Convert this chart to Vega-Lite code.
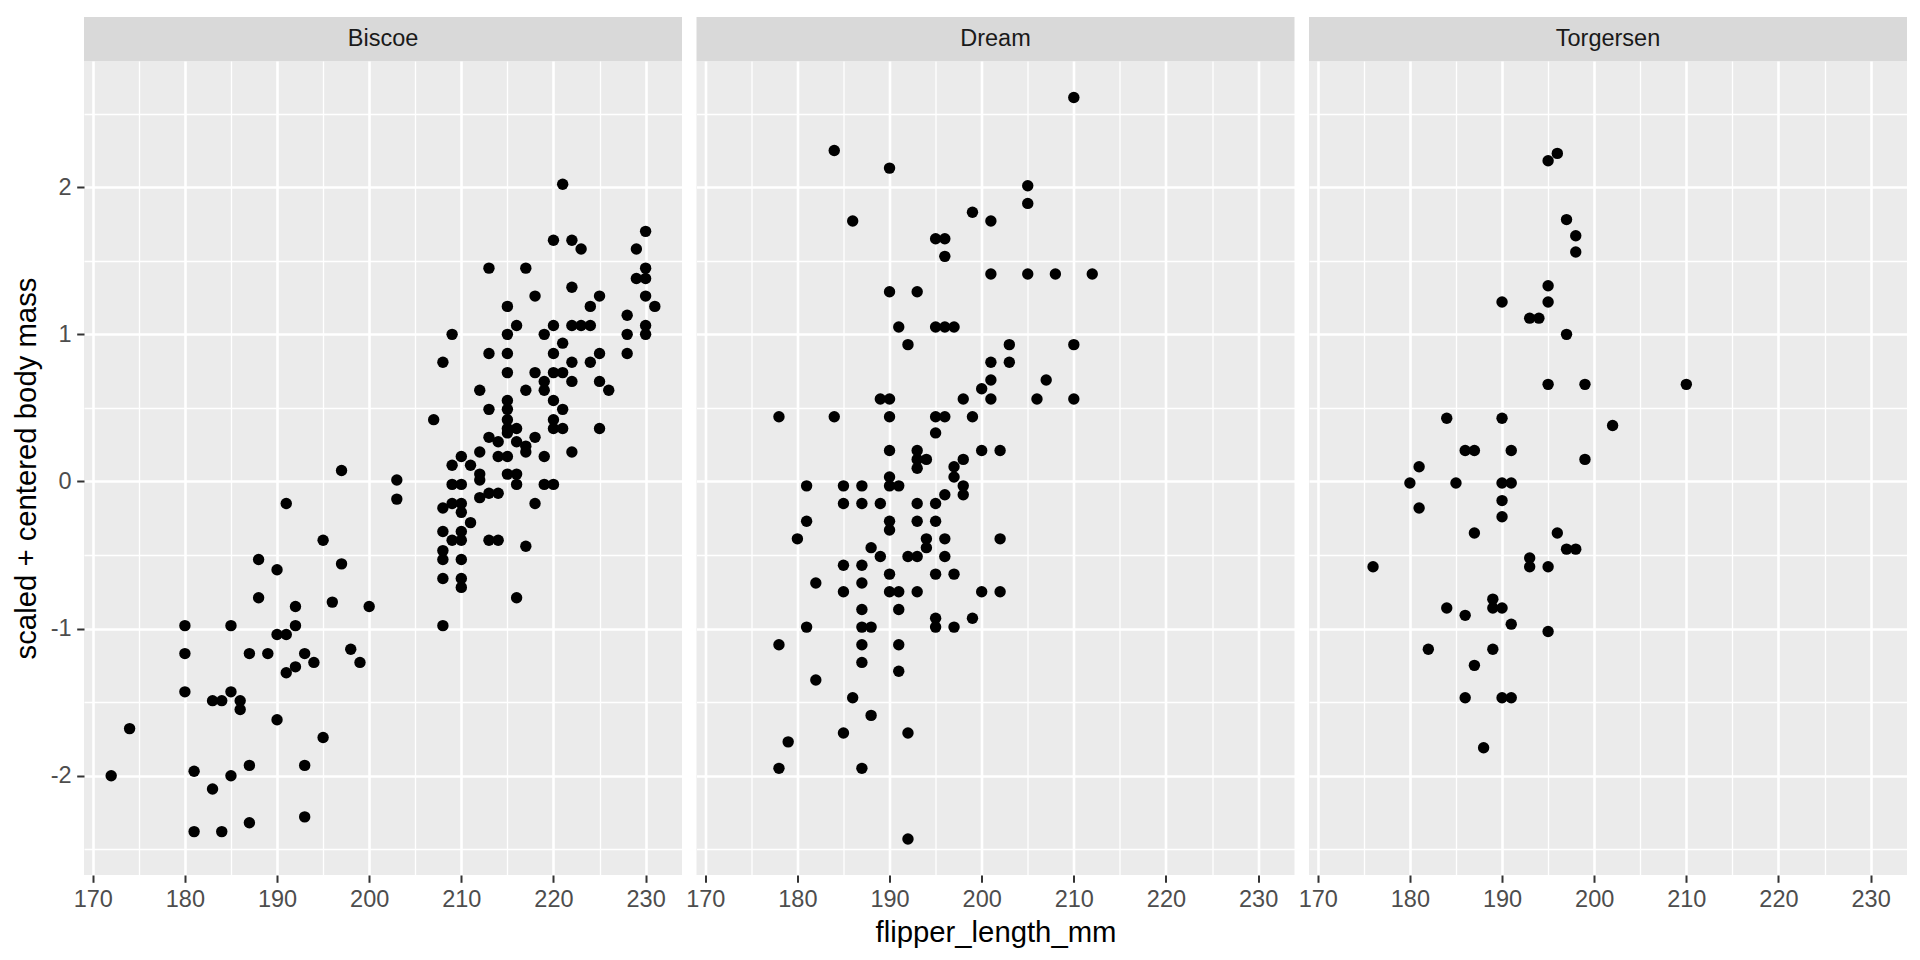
{
  "$schema": "https://vega.github.io/schema/vega-lite/v6.json",
  "background": "white",
  "autosize": {"type": "pad"},
  "padding": {"left": 12, "top": 17, "right": 14, "bottom": 10},
  "spacing": 0,
  "config": {
    "view": {"stroke": null},
    "font": "Liberation Sans"
  },
  "datasets": {
    "penguins": [
      {"island":"Biscoe","flipper_length_mm":221,"body_mass":2.02},{"island":"Biscoe","flipper_length_mm":230,"body_mass":1.70},{"island":"Biscoe","flipper_length_mm":220,"body_mass":1.64},{"island":"Biscoe","flipper_length_mm":222,"body_mass":1.64},{"island":"Biscoe","flipper_length_mm":223,"body_mass":1.58},{"island":"Biscoe","flipper_length_mm":229,"body_mass":1.58},{"island":"Biscoe","flipper_length_mm":213,"body_mass":1.45},{"island":"Biscoe","flipper_length_mm":217,"body_mass":1.45},{"island":"Biscoe","flipper_length_mm":230,"body_mass":1.45},{"island":"Biscoe","flipper_length_mm":229,"body_mass":1.38},{"island":"Biscoe","flipper_length_mm":230,"body_mass":1.38},{"island":"Biscoe","flipper_length_mm":222,"body_mass":1.32},{"island":"Biscoe","flipper_length_mm":218,"body_mass":1.26},{"island":"Biscoe","flipper_length_mm":225,"body_mass":1.26},{"island":"Biscoe","flipper_length_mm":230,"body_mass":1.26},{"island":"Biscoe","flipper_length_mm":215,"body_mass":1.19},{"island":"Biscoe","flipper_length_mm":224,"body_mass":1.19},{"island":"Biscoe","flipper_length_mm":231,"body_mass":1.19},{"island":"Biscoe","flipper_length_mm":228,"body_mass":1.13},{"island":"Biscoe","flipper_length_mm":216,"body_mass":1.06},{"island":"Biscoe","flipper_length_mm":220,"body_mass":1.06},{"island":"Biscoe","flipper_length_mm":222,"body_mass":1.06},{"island":"Biscoe","flipper_length_mm":223,"body_mass":1.06},{"island":"Biscoe","flipper_length_mm":224,"body_mass":1.06},{"island":"Biscoe","flipper_length_mm":230,"body_mass":1.06},{"island":"Biscoe","flipper_length_mm":209,"body_mass":1.00},{"island":"Biscoe","flipper_length_mm":215,"body_mass":1.00},{"island":"Biscoe","flipper_length_mm":219,"body_mass":1.00},{"island":"Biscoe","flipper_length_mm":228,"body_mass":1.00},{"island":"Biscoe","flipper_length_mm":230,"body_mass":1.00},{"island":"Biscoe","flipper_length_mm":221,"body_mass":0.94},{"island":"Biscoe","flipper_length_mm":213,"body_mass":0.87},{"island":"Biscoe","flipper_length_mm":215,"body_mass":0.87},{"island":"Biscoe","flipper_length_mm":220,"body_mass":0.87},{"island":"Biscoe","flipper_length_mm":225,"body_mass":0.87},{"island":"Biscoe","flipper_length_mm":228,"body_mass":0.87},{"island":"Biscoe","flipper_length_mm":208,"body_mass":0.81},{"island":"Biscoe","flipper_length_mm":222,"body_mass":0.81},{"island":"Biscoe","flipper_length_mm":224,"body_mass":0.81},{"island":"Biscoe","flipper_length_mm":215,"body_mass":0.74},{"island":"Biscoe","flipper_length_mm":218,"body_mass":0.74},{"island":"Biscoe","flipper_length_mm":220,"body_mass":0.74},{"island":"Biscoe","flipper_length_mm":221,"body_mass":0.74},{"island":"Biscoe","flipper_length_mm":219,"body_mass":0.68},{"island":"Biscoe","flipper_length_mm":222,"body_mass":0.68},{"island":"Biscoe","flipper_length_mm":225,"body_mass":0.68},{"island":"Biscoe","flipper_length_mm":212,"body_mass":0.62},{"island":"Biscoe","flipper_length_mm":217,"body_mass":0.62},{"island":"Biscoe","flipper_length_mm":219,"body_mass":0.62},{"island":"Biscoe","flipper_length_mm":226,"body_mass":0.62},{"island":"Biscoe","flipper_length_mm":215,"body_mass":0.55},{"island":"Biscoe","flipper_length_mm":220,"body_mass":0.55},{"island":"Biscoe","flipper_length_mm":213,"body_mass":0.49},{"island":"Biscoe","flipper_length_mm":215,"body_mass":0.49},{"island":"Biscoe","flipper_length_mm":221,"body_mass":0.49},{"island":"Biscoe","flipper_length_mm":207,"body_mass":0.42},{"island":"Biscoe","flipper_length_mm":215,"body_mass":0.42},{"island":"Biscoe","flipper_length_mm":220,"body_mass":0.42},{"island":"Biscoe","flipper_length_mm":215,"body_mass":0.36},{"island":"Biscoe","flipper_length_mm":216,"body_mass":0.36},{"island":"Biscoe","flipper_length_mm":220,"body_mass":0.36},{"island":"Biscoe","flipper_length_mm":221,"body_mass":0.36},{"island":"Biscoe","flipper_length_mm":225,"body_mass":0.36},{"island":"Biscoe","flipper_length_mm":215,"body_mass":0.33},{"island":"Biscoe","flipper_length_mm":213,"body_mass":0.30},{"island":"Biscoe","flipper_length_mm":214,"body_mass":0.27},{"island":"Biscoe","flipper_length_mm":216,"body_mass":0.27},{"island":"Biscoe","flipper_length_mm":218,"body_mass":0.30},{"island":"Biscoe","flipper_length_mm":217,"body_mass":0.24},{"island":"Biscoe","flipper_length_mm":217,"body_mass":0.20},{"island":"Biscoe","flipper_length_mm":222,"body_mass":0.20},{"island":"Biscoe","flipper_length_mm":212,"body_mass":0.20},{"island":"Biscoe","flipper_length_mm":210,"body_mass":0.17},{"island":"Biscoe","flipper_length_mm":214,"body_mass":0.17},{"island":"Biscoe","flipper_length_mm":215,"body_mass":0.17},{"island":"Biscoe","flipper_length_mm":219,"body_mass":0.17},{"island":"Biscoe","flipper_length_mm":209,"body_mass":0.11},{"island":"Biscoe","flipper_length_mm":211,"body_mass":0.11},
      {"island":"Biscoe","flipper_length_mm":212,"body_mass":0.05},{"island":"Biscoe","flipper_length_mm":212,"body_mass":0.01},{"island":"Biscoe","flipper_length_mm":215,"body_mass":0.05},{"island":"Biscoe","flipper_length_mm":216,"body_mass":0.05},{"island":"Biscoe","flipper_length_mm":216,"body_mass":-0.02},{"island":"Biscoe","flipper_length_mm":203,"body_mass":0.01},{"island":"Biscoe","flipper_length_mm":203,"body_mass":-0.12},{"island":"Biscoe","flipper_length_mm":209,"body_mass":-0.02},{"island":"Biscoe","flipper_length_mm":210,"body_mass":-0.02},{"island":"Biscoe","flipper_length_mm":219,"body_mass":-0.02},{"island":"Biscoe","flipper_length_mm":220,"body_mass":-0.02},{"island":"Biscoe","flipper_length_mm":212,"body_mass":-0.11},{"island":"Biscoe","flipper_length_mm":213,"body_mass":-0.08},{"island":"Biscoe","flipper_length_mm":214,"body_mass":-0.08},{"island":"Biscoe","flipper_length_mm":218,"body_mass":-0.15},{"island":"Biscoe","flipper_length_mm":208,"body_mass":-0.18},{"island":"Biscoe","flipper_length_mm":209,"body_mass":-0.15},{"island":"Biscoe","flipper_length_mm":210,"body_mass":-0.15},{"island":"Biscoe","flipper_length_mm":210,"body_mass":-0.21},{"island":"Biscoe","flipper_length_mm":211,"body_mass":-0.28},{"island":"Biscoe","flipper_length_mm":208,"body_mass":-0.34},{"island":"Biscoe","flipper_length_mm":210,"body_mass":-0.34},{"island":"Biscoe","flipper_length_mm":209,"body_mass":-0.40},{"island":"Biscoe","flipper_length_mm":210,"body_mass":-0.40},{"island":"Biscoe","flipper_length_mm":213,"body_mass":-0.40},{"island":"Biscoe","flipper_length_mm":214,"body_mass":-0.40},{"island":"Biscoe","flipper_length_mm":217,"body_mass":-0.44},{"island":"Biscoe","flipper_length_mm":208,"body_mass":-0.47},{"island":"Biscoe","flipper_length_mm":208,"body_mass":-0.53},{"island":"Biscoe","flipper_length_mm":210,"body_mass":-0.53},{"island":"Biscoe","flipper_length_mm":208,"body_mass":-0.66},{"island":"Biscoe","flipper_length_mm":210,"body_mass":-0.66},{"island":"Biscoe","flipper_length_mm":210,"body_mass":-0.72},{"island":"Biscoe","flipper_length_mm":216,"body_mass":-0.79},{"island":"Biscoe","flipper_length_mm":208,"body_mass":-0.98},
      {"island":"Biscoe","flipper_length_mm":197,"body_mass":0.075},{"island":"Biscoe","flipper_length_mm":191,"body_mass":-0.15},{"island":"Biscoe","flipper_length_mm":195,"body_mass":-0.40},{"island":"Biscoe","flipper_length_mm":188,"body_mass":-0.53},{"island":"Biscoe","flipper_length_mm":190,"body_mass":-0.60},{"island":"Biscoe","flipper_length_mm":197,"body_mass":-0.56},{"island":"Biscoe","flipper_length_mm":188,"body_mass":-0.79},{"island":"Biscoe","flipper_length_mm":192,"body_mass":-0.85},{"island":"Biscoe","flipper_length_mm":196,"body_mass":-0.82},{"island":"Biscoe","flipper_length_mm":200,"body_mass":-0.85},{"island":"Biscoe","flipper_length_mm":180,"body_mass":-0.98},{"island":"Biscoe","flipper_length_mm":185,"body_mass":-0.98},{"island":"Biscoe","flipper_length_mm":192,"body_mass":-0.98},{"island":"Biscoe","flipper_length_mm":190,"body_mass":-1.04},{"island":"Biscoe","flipper_length_mm":191,"body_mass":-1.04},{"island":"Biscoe","flipper_length_mm":180,"body_mass":-1.17},{"island":"Biscoe","flipper_length_mm":187,"body_mass":-1.17},{"island":"Biscoe","flipper_length_mm":189,"body_mass":-1.17},{"island":"Biscoe","flipper_length_mm":193,"body_mass":-1.17},{"island":"Biscoe","flipper_length_mm":194,"body_mass":-1.23},{"island":"Biscoe","flipper_length_mm":198,"body_mass":-1.14},{"island":"Biscoe","flipper_length_mm":199,"body_mass":-1.23},{"island":"Biscoe","flipper_length_mm":191,"body_mass":-1.30},{"island":"Biscoe","flipper_length_mm":192,"body_mass":-1.26},{"island":"Biscoe","flipper_length_mm":180,"body_mass":-1.43},{"island":"Biscoe","flipper_length_mm":185,"body_mass":-1.43},{"island":"Biscoe","flipper_length_mm":183,"body_mass":-1.49},{"island":"Biscoe","flipper_length_mm":184,"body_mass":-1.49},{"island":"Biscoe","flipper_length_mm":186,"body_mass":-1.49},{"island":"Biscoe","flipper_length_mm":186,"body_mass":-1.55},{"island":"Biscoe","flipper_length_mm":190,"body_mass":-1.62},{"island":"Biscoe","flipper_length_mm":174,"body_mass":-1.68},{"island":"Biscoe","flipper_length_mm":195,"body_mass":-1.74},{"island":"Biscoe","flipper_length_mm":172,"body_mass":-2.00},{"island":"Biscoe","flipper_length_mm":181,"body_mass":-1.97},{"island":"Biscoe","flipper_length_mm":185,"body_mass":-2.00},{"island":"Biscoe","flipper_length_mm":187,"body_mass":-1.93},{"island":"Biscoe","flipper_length_mm":193,"body_mass":-1.93},{"island":"Biscoe","flipper_length_mm":183,"body_mass":-2.09},{"island":"Biscoe","flipper_length_mm":193,"body_mass":-2.28},{"island":"Biscoe","flipper_length_mm":187,"body_mass":-2.32},{"island":"Biscoe","flipper_length_mm":181,"body_mass":-2.38},{"island":"Biscoe","flipper_length_mm":184,"body_mass":-2.38},
      {"island":"Dream","flipper_length_mm":184,"body_mass":2.25},{"island":"Dream","flipper_length_mm":190,"body_mass":2.13},{"island":"Dream","flipper_length_mm":199,"body_mass":1.83},{"island":"Dream","flipper_length_mm":201,"body_mass":1.77},{"island":"Dream","flipper_length_mm":186,"body_mass":1.77},{"island":"Dream","flipper_length_mm":195,"body_mass":1.65},{"island":"Dream","flipper_length_mm":196,"body_mass":1.65},{"island":"Dream","flipper_length_mm":196,"body_mass":1.53},{"island":"Dream","flipper_length_mm":201,"body_mass":1.41},{"island":"Dream","flipper_length_mm":190,"body_mass":1.29},{"island":"Dream","flipper_length_mm":193,"body_mass":1.29},{"island":"Dream","flipper_length_mm":191,"body_mass":1.05},{"island":"Dream","flipper_length_mm":195,"body_mass":1.05},{"island":"Dream","flipper_length_mm":196,"body_mass":1.05},{"island":"Dream","flipper_length_mm":197,"body_mass":1.05},{"island":"Dream","flipper_length_mm":192,"body_mass":0.93},{"island":"Dream","flipper_length_mm":201,"body_mass":0.81},{"island":"Dream","flipper_length_mm":201,"body_mass":0.69},{"island":"Dream","flipper_length_mm":200,"body_mass":0.63},{"island":"Dream","flipper_length_mm":189,"body_mass":0.56},{"island":"Dream","flipper_length_mm":190,"body_mass":0.56},{"island":"Dream","flipper_length_mm":198,"body_mass":0.56},{"island":"Dream","flipper_length_mm":201,"body_mass":0.56},{"island":"Dream","flipper_length_mm":178,"body_mass":0.44},{"island":"Dream","flipper_length_mm":184,"body_mass":0.44},{"island":"Dream","flipper_length_mm":190,"body_mass":0.44},{"island":"Dream","flipper_length_mm":195,"body_mass":0.44},{"island":"Dream","flipper_length_mm":196,"body_mass":0.44},{"island":"Dream","flipper_length_mm":199,"body_mass":0.44},{"island":"Dream","flipper_length_mm":195,"body_mass":0.33},{"island":"Dream","flipper_length_mm":190,"body_mass":0.21},{"island":"Dream","flipper_length_mm":193,"body_mass":0.21},{"island":"Dream","flipper_length_mm":200,"body_mass":0.21},{"island":"Dream","flipper_length_mm":193,"body_mass":0.15},{"island":"Dream","flipper_length_mm":194,"body_mass":0.15},{"island":"Dream","flipper_length_mm":198,"body_mass":0.15},{"island":"Dream","flipper_length_mm":197,"body_mass":0.10},{"island":"Dream","flipper_length_mm":193,"body_mass":0.09},
      {"island":"Dream","flipper_length_mm":210,"body_mass":2.61},{"island":"Dream","flipper_length_mm":205,"body_mass":2.01},{"island":"Dream","flipper_length_mm":205,"body_mass":1.89},{"island":"Dream","flipper_length_mm":205,"body_mass":1.41},{"island":"Dream","flipper_length_mm":208,"body_mass":1.41},{"island":"Dream","flipper_length_mm":212,"body_mass":1.41},{"island":"Dream","flipper_length_mm":203,"body_mass":0.93},{"island":"Dream","flipper_length_mm":210,"body_mass":0.93},{"island":"Dream","flipper_length_mm":203,"body_mass":0.81},{"island":"Dream","flipper_length_mm":207,"body_mass":0.69},{"island":"Dream","flipper_length_mm":206,"body_mass":0.56},{"island":"Dream","flipper_length_mm":210,"body_mass":0.56},{"island":"Dream","flipper_length_mm":202,"body_mass":0.21},
      {"island":"Dream","flipper_length_mm":197,"body_mass":0.03},{"island":"Dream","flipper_length_mm":190,"body_mass":0.03},{"island":"Dream","flipper_length_mm":181,"body_mass":-0.03},{"island":"Dream","flipper_length_mm":185,"body_mass":-0.03},{"island":"Dream","flipper_length_mm":187,"body_mass":-0.03},{"island":"Dream","flipper_length_mm":190,"body_mass":-0.03},{"island":"Dream","flipper_length_mm":191,"body_mass":-0.03},{"island":"Dream","flipper_length_mm":198,"body_mass":-0.03},{"island":"Dream","flipper_length_mm":198,"body_mass":-0.09},{"island":"Dream","flipper_length_mm":196,"body_mass":-0.09},{"island":"Dream","flipper_length_mm":185,"body_mass":-0.15},{"island":"Dream","flipper_length_mm":187,"body_mass":-0.15},{"island":"Dream","flipper_length_mm":189,"body_mass":-0.15},{"island":"Dream","flipper_length_mm":193,"body_mass":-0.15},{"island":"Dream","flipper_length_mm":195,"body_mass":-0.15},{"island":"Dream","flipper_length_mm":181,"body_mass":-0.27},{"island":"Dream","flipper_length_mm":190,"body_mass":-0.27},{"island":"Dream","flipper_length_mm":190,"body_mass":-0.33},{"island":"Dream","flipper_length_mm":193,"body_mass":-0.27},{"island":"Dream","flipper_length_mm":195,"body_mass":-0.27},{"island":"Dream","flipper_length_mm":180,"body_mass":-0.39},{"island":"Dream","flipper_length_mm":194,"body_mass":-0.39},{"island":"Dream","flipper_length_mm":194,"body_mass":-0.45},{"island":"Dream","flipper_length_mm":196,"body_mass":-0.39},{"island":"Dream","flipper_length_mm":202,"body_mass":-0.39},{"island":"Dream","flipper_length_mm":188,"body_mass":-0.45},{"island":"Dream","flipper_length_mm":189,"body_mass":-0.51},{"island":"Dream","flipper_length_mm":192,"body_mass":-0.51},{"island":"Dream","flipper_length_mm":193,"body_mass":-0.51},{"island":"Dream","flipper_length_mm":196,"body_mass":-0.51},{"island":"Dream","flipper_length_mm":185,"body_mass":-0.57},{"island":"Dream","flipper_length_mm":187,"body_mass":-0.57},{"island":"Dream","flipper_length_mm":190,"body_mass":-0.63},{"island":"Dream","flipper_length_mm":195,"body_mass":-0.63},{"island":"Dream","flipper_length_mm":197,"body_mass":-0.63},{"island":"Dream","flipper_length_mm":182,"body_mass":-0.69},{"island":"Dream","flipper_length_mm":187,"body_mass":-0.69},{"island":"Dream","flipper_length_mm":185,"body_mass":-0.75},{"island":"Dream","flipper_length_mm":190,"body_mass":-0.75},{"island":"Dream","flipper_length_mm":191,"body_mass":-0.75},{"island":"Dream","flipper_length_mm":193,"body_mass":-0.75},{"island":"Dream","flipper_length_mm":200,"body_mass":-0.75},{"island":"Dream","flipper_length_mm":202,"body_mass":-0.75},{"island":"Dream","flipper_length_mm":187,"body_mass":-0.87},{"island":"Dream","flipper_length_mm":191,"body_mass":-0.87},{"island":"Dream","flipper_length_mm":195,"body_mass":-0.93},{"island":"Dream","flipper_length_mm":195,"body_mass":-0.99},{"island":"Dream","flipper_length_mm":199,"body_mass":-0.93},{"island":"Dream","flipper_length_mm":181,"body_mass":-0.99},{"island":"Dream","flipper_length_mm":187,"body_mass":-0.99},{"island":"Dream","flipper_length_mm":188,"body_mass":-0.99},{"island":"Dream","flipper_length_mm":197,"body_mass":-0.99},{"island":"Dream","flipper_length_mm":178,"body_mass":-1.11},{"island":"Dream","flipper_length_mm":187,"body_mass":-1.11},{"island":"Dream","flipper_length_mm":191,"body_mass":-1.11},{"island":"Dream","flipper_length_mm":187,"body_mass":-1.23},{"island":"Dream","flipper_length_mm":191,"body_mass":-1.29},{"island":"Dream","flipper_length_mm":182,"body_mass":-1.35},{"island":"Dream","flipper_length_mm":186,"body_mass":-1.47},{"island":"Dream","flipper_length_mm":188,"body_mass":-1.59},{"island":"Dream","flipper_length_mm":185,"body_mass":-1.71},{"island":"Dream","flipper_length_mm":192,"body_mass":-1.71},{"island":"Dream","flipper_length_mm":179,"body_mass":-1.77},{"island":"Dream","flipper_length_mm":178,"body_mass":-1.95},{"island":"Dream","flipper_length_mm":187,"body_mass":-1.95},{"island":"Dream","flipper_length_mm":192,"body_mass":-2.43},
      {"island":"Torgersen","flipper_length_mm":196,"body_mass":2.23},{"island":"Torgersen","flipper_length_mm":195,"body_mass":2.18},{"island":"Torgersen","flipper_length_mm":197,"body_mass":1.78},{"island":"Torgersen","flipper_length_mm":198,"body_mass":1.67},{"island":"Torgersen","flipper_length_mm":198,"body_mass":1.56},{"island":"Torgersen","flipper_length_mm":195,"body_mass":1.33},{"island":"Torgersen","flipper_length_mm":190,"body_mass":1.22},{"island":"Torgersen","flipper_length_mm":195,"body_mass":1.22},{"island":"Torgersen","flipper_length_mm":193,"body_mass":1.11},{"island":"Torgersen","flipper_length_mm":194,"body_mass":1.11},{"island":"Torgersen","flipper_length_mm":197,"body_mass":1.00},{"island":"Torgersen","flipper_length_mm":195,"body_mass":0.66},{"island":"Torgersen","flipper_length_mm":199,"body_mass":0.66},{"island":"Torgersen","flipper_length_mm":210,"body_mass":0.66},{"island":"Torgersen","flipper_length_mm":184,"body_mass":0.43},{"island":"Torgersen","flipper_length_mm":190,"body_mass":0.43},{"island":"Torgersen","flipper_length_mm":202,"body_mass":0.38},{"island":"Torgersen","flipper_length_mm":186,"body_mass":0.21},{"island":"Torgersen","flipper_length_mm":187,"body_mass":0.21},{"island":"Torgersen","flipper_length_mm":191,"body_mass":0.21},{"island":"Torgersen","flipper_length_mm":199,"body_mass":0.15},{"island":"Torgersen","flipper_length_mm":181,"body_mass":0.10},{"island":"Torgersen","flipper_length_mm":180,"body_mass":-0.01},{"island":"Torgersen","flipper_length_mm":185,"body_mass":-0.01},{"island":"Torgersen","flipper_length_mm":190,"body_mass":-0.01},{"island":"Torgersen","flipper_length_mm":191,"body_mass":-0.01},{"island":"Torgersen","flipper_length_mm":190,"body_mass":-0.13},{"island":"Torgersen","flipper_length_mm":181,"body_mass":-0.18},{"island":"Torgersen","flipper_length_mm":190,"body_mass":-0.24},{"island":"Torgersen","flipper_length_mm":187,"body_mass":-0.35},{"island":"Torgersen","flipper_length_mm":196,"body_mass":-0.35},{"island":"Torgersen","flipper_length_mm":197,"body_mass":-0.46},{"island":"Torgersen","flipper_length_mm":198,"body_mass":-0.46},{"island":"Torgersen","flipper_length_mm":193,"body_mass":-0.52},{"island":"Torgersen","flipper_length_mm":193,"body_mass":-0.58},{"island":"Torgersen","flipper_length_mm":195,"body_mass":-0.58},{"island":"Torgersen","flipper_length_mm":176,"body_mass":-0.58},{"island":"Torgersen","flipper_length_mm":189,"body_mass":-0.80},{"island":"Torgersen","flipper_length_mm":184,"body_mass":-0.86},{"island":"Torgersen","flipper_length_mm":189,"body_mass":-0.86},{"island":"Torgersen","flipper_length_mm":190,"body_mass":-0.86},{"island":"Torgersen","flipper_length_mm":186,"body_mass":-0.91},{"island":"Torgersen","flipper_length_mm":191,"body_mass":-0.97},{"island":"Torgersen","flipper_length_mm":195,"body_mass":-1.02},{"island":"Torgersen","flipper_length_mm":182,"body_mass":-1.14},{"island":"Torgersen","flipper_length_mm":189,"body_mass":-1.14},{"island":"Torgersen","flipper_length_mm":187,"body_mass":-1.25},{"island":"Torgersen","flipper_length_mm":186,"body_mass":-1.47},{"island":"Torgersen","flipper_length_mm":190,"body_mass":-1.47},{"island":"Torgersen","flipper_length_mm":191,"body_mass":-1.47},{"island":"Torgersen","flipper_length_mm":188,"body_mass":-1.81}
    ]
  },
  "vconcat": [
    {
      "spacing": 14.5,
      "bounds": "flush",
      "hconcat": [
        {
          "width": 598, "height": 44,
          "data": {"values": [{"island": "Biscoe"}]},
          "view": {"fill": "#D9D9D9", "stroke": null},
          "mark": {"type": "text", "fontSize": 23.5, "color": "#1A1A1A", "font": "Liberation Sans"},
          "encoding": {"text": {"field": "island"}}
        },
        {
          "width": 598, "height": 44,
          "data": {"values": [{"island": "Dream"}]},
          "view": {"fill": "#D9D9D9", "stroke": null},
          "mark": {"type": "text", "fontSize": 23.5, "color": "#1A1A1A", "font": "Liberation Sans"},
          "encoding": {"text": {"field": "island"}}
        },
        {
          "width": 598, "height": 44,
          "data": {"values": [{"island": "Torgersen"}]},
          "view": {"fill": "#D9D9D9", "stroke": null},
          "mark": {"type": "text", "fontSize": 23.5, "color": "#1A1A1A", "font": "Liberation Sans"},
          "encoding": {"text": {"field": "island"}}
        }
      ]
    },
    {
      "spacing": 14.5,
      "bounds": "flush",
      "hconcat": [
        {
          "width": 598, "height": 814,
          "data": {"name": "penguins"},
          "transform": [{"filter": "datum.island === 'Biscoe'"}],
          "view": {"fill": "#EBEBEB", "stroke": null},
          "mark": {"type": "circle", "size": 130, "color": "black", "opacity": 1},
          "encoding": {
            "x": {"field": "flipper_length_mm", "type": "quantitative",
              "scale": {"domain": [169.05, 233.95], "nice": false, "zero": false},
              "axis": {"title": null, "values": [170,175,180,185,190,195,200,205,210,215,220,225,230],
                "labelExpr": "datum.value % 10 === 0 ? toString(datum.value) : ''",
                "labelOverlap": false, "labelFlush": false, "domain": false,
                "gridColor": "white",
                "gridWidth": {"condition": {"test": "datum.value % 10 === 0", "value": 2.6}, "value": 1.3},
                "tickOpacity": {"condition": {"test": "datum.value % 10 === 0", "value": 1}, "value": 0},
                "tickColor": "#333333", "tickSize": 7.3, "tickWidth": 2,
                "labelColor": "#4D4D4D", "labelFontSize": 23.5, "labelPadding": 5.5, "labelFont": "Liberation Sans"}},
            "y": {"field": "body_mass", "type": "quantitative",
              "scale": {"domain": [-2.675, 2.858], "nice": false, "zero": false},
              "axis": {"title": "scaled + centered body mass", "values": [-2.5,-2,-1.5,-1,-0.5,0,0.5,1,1.5,2,2.5],
                "labelExpr": "datum.value % 1 === 0 ? toString(datum.value) : ''",
                "labelOverlap": false, "labelFlush": false, "domain": false,
                "gridColor": "white",
                "gridWidth": {"condition": {"test": "datum.value % 1 === 0", "value": 2.6}, "value": 1.3},
                "tickOpacity": {"condition": {"test": "datum.value % 1 === 0", "value": 1}, "value": 0},
                "tickColor": "#333333", "tickSize": 7.3, "tickWidth": 2,
                "labelColor": "#4D4D4D", "labelFontSize": 23.5, "labelPadding": 5.5, "labelFont": "Liberation Sans",
                "titleFont": "Liberation Sans", "titleFontSize": 29.3, "titleFontWeight": "normal", "titleColor": "black", "titlePadding": 9}}
          }
        },
        {
          "width": 598, "height": 814,
          "data": {"name": "penguins"},
          "transform": [{"filter": "datum.island === 'Dream'"}],
          "view": {"fill": "#EBEBEB", "stroke": null},
          "mark": {"type": "circle", "size": 130, "color": "black", "opacity": 1},
          "encoding": {
            "x": {"field": "flipper_length_mm", "type": "quantitative",
              "scale": {"domain": [169.05, 233.95], "nice": false, "zero": false},
              "axis": {"title": "flipper_length_mm", "values": [170,175,180,185,190,195,200,205,210,215,220,225,230],
                "labelExpr": "datum.value % 10 === 0 ? toString(datum.value) : ''",
                "labelOverlap": false, "labelFlush": false, "domain": false,
                "gridColor": "white",
                "gridWidth": {"condition": {"test": "datum.value % 10 === 0", "value": 2.6}, "value": 1.3},
                "tickOpacity": {"condition": {"test": "datum.value % 10 === 0", "value": 1}, "value": 0},
                "tickColor": "#333333", "tickSize": 7.3, "tickWidth": 2,
                "labelColor": "#4D4D4D", "labelFontSize": 23.5, "labelPadding": 5.5, "labelFont": "Liberation Sans",
                "titleFont": "Liberation Sans", "titleFontSize": 29.3, "titleFontWeight": "normal", "titleColor": "black", "titlePadding": 7.3}},
            "y": {"field": "body_mass", "type": "quantitative",
              "scale": {"domain": [-2.675, 2.858], "nice": false, "zero": false},
              "axis": {"title": null, "values": [-2.5,-2,-1.5,-1,-0.5,0,0.5,1,1.5,2,2.5],
                "labels": false, "ticks": false, "domain": false,
                "gridColor": "white",
                "gridWidth": {"condition": {"test": "datum.value % 1 === 0", "value": 2.6}, "value": 1.3}}}
          }
        },
        {
          "width": 598, "height": 814,
          "data": {"name": "penguins"},
          "transform": [{"filter": "datum.island === 'Torgersen'"}],
          "view": {"fill": "#EBEBEB", "stroke": null},
          "mark": {"type": "circle", "size": 130, "color": "black", "opacity": 1},
          "encoding": {
            "x": {"field": "flipper_length_mm", "type": "quantitative",
              "scale": {"domain": [169.05, 233.95], "nice": false, "zero": false},
              "axis": {"title": null, "values": [170,175,180,185,190,195,200,205,210,215,220,225,230],
                "labelExpr": "datum.value % 10 === 0 ? toString(datum.value) : ''",
                "labelOverlap": false, "labelFlush": false, "domain": false,
                "gridColor": "white",
                "gridWidth": {"condition": {"test": "datum.value % 10 === 0", "value": 2.6}, "value": 1.3},
                "tickOpacity": {"condition": {"test": "datum.value % 10 === 0", "value": 1}, "value": 0},
                "tickColor": "#333333", "tickSize": 7.3, "tickWidth": 2,
                "labelColor": "#4D4D4D", "labelFontSize": 23.5, "labelPadding": 5.5, "labelFont": "Liberation Sans"}},
            "y": {"field": "body_mass", "type": "quantitative",
              "scale": {"domain": [-2.675, 2.858], "nice": false, "zero": false},
              "axis": {"title": null, "values": [-2.5,-2,-1.5,-1,-0.5,0,0.5,1,1.5,2,2.5],
                "labels": false, "ticks": false, "domain": false,
                "gridColor": "white",
                "gridWidth": {"condition": {"test": "datum.value % 1 === 0", "value": 2.6}, "value": 1.3}}}
          }
        }
      ]
    }
  ]
}
